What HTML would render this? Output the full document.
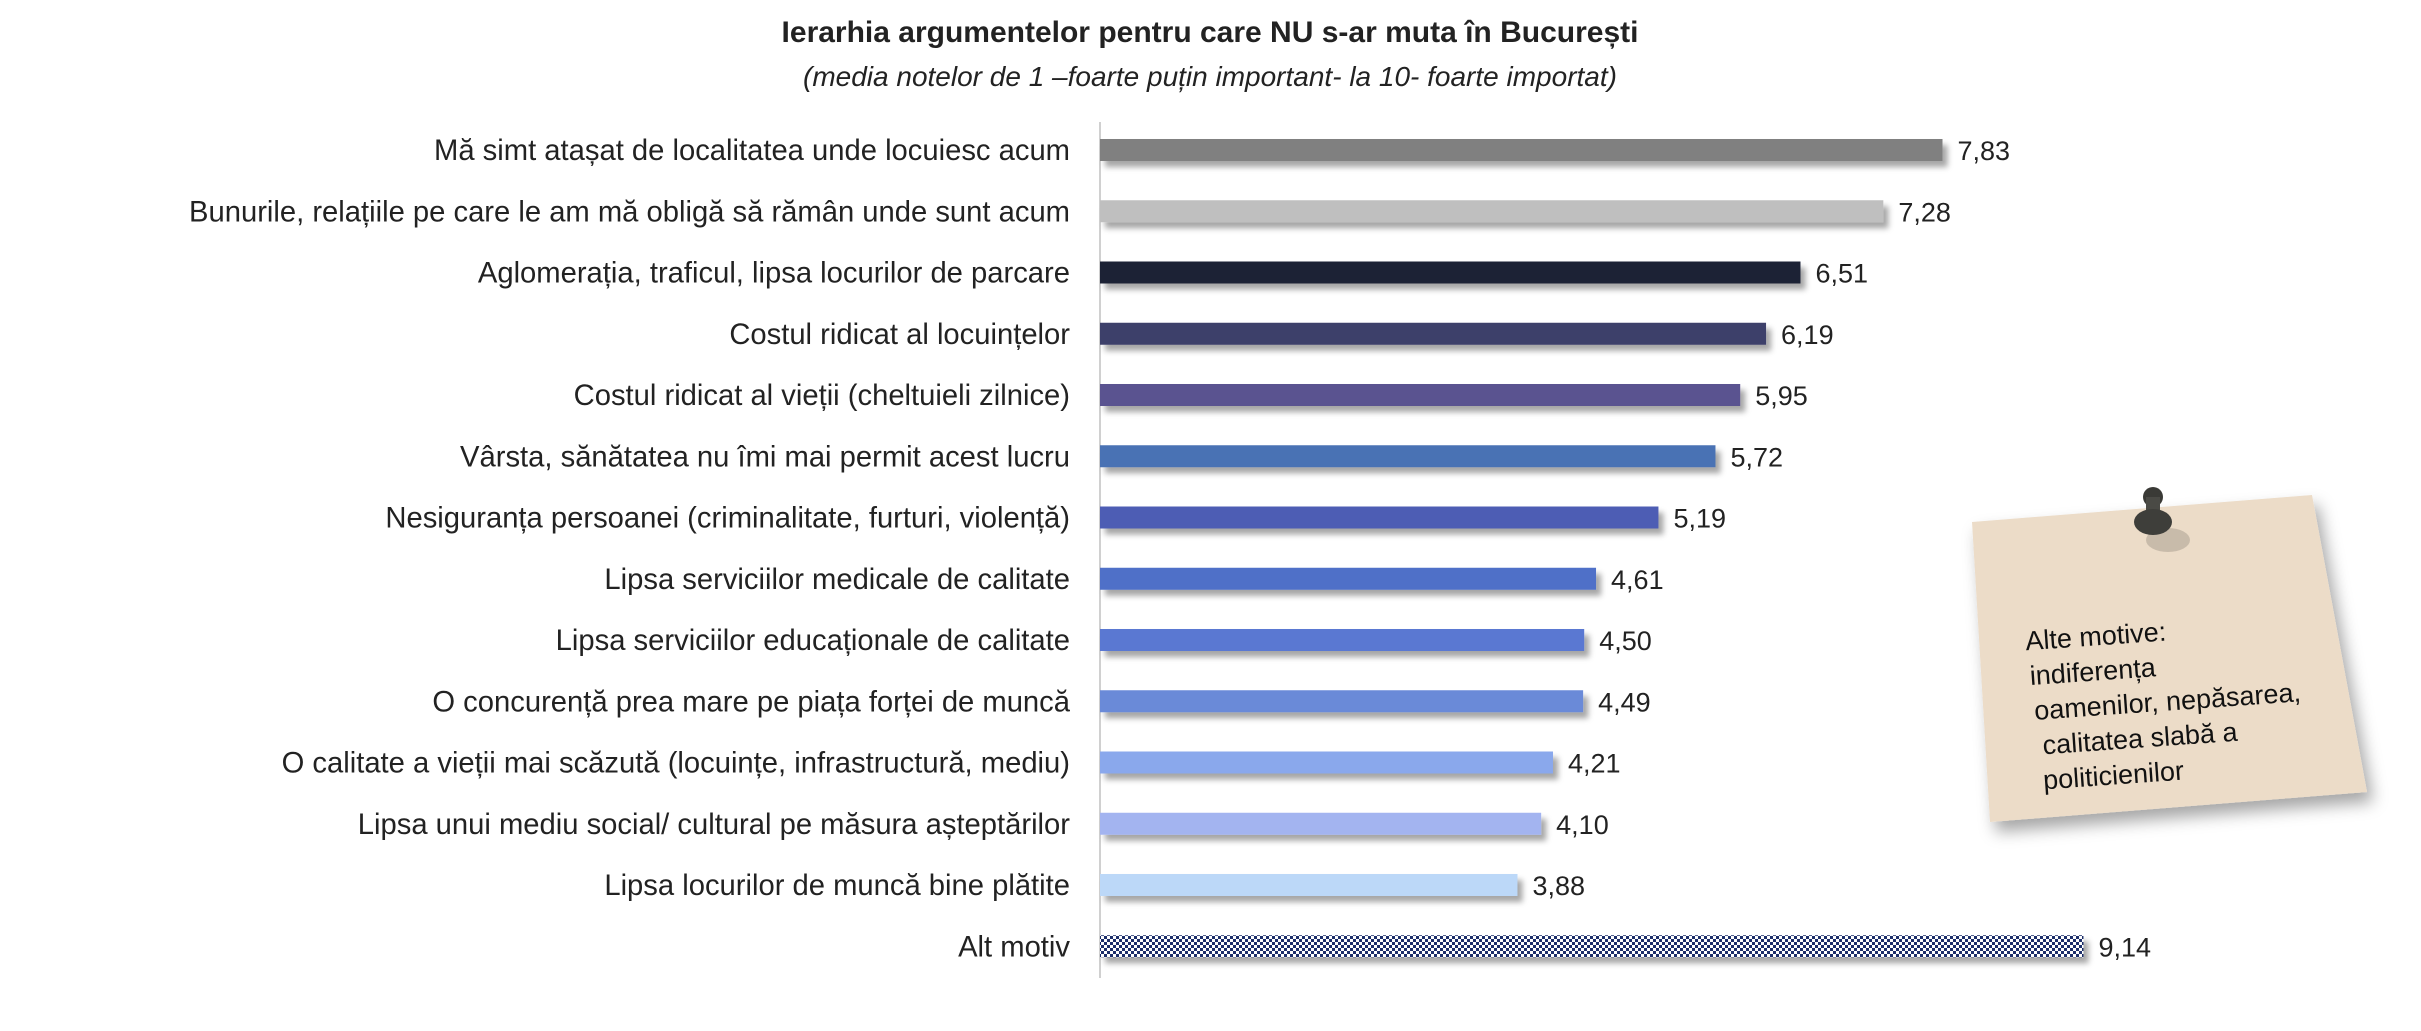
<!DOCTYPE html>
<html><head><meta charset="utf-8"><style>
body{margin:0;background:#fff;width:2421px;height:1031px;overflow:hidden;font-family:"Liberation Sans",sans-serif}
svg{display:block}
</style></head><body>
<svg id="chart" width="2421" height="1031">
<defs>
<pattern id="chk" width="6" height="6" patternUnits="userSpaceOnUse"><rect width="6" height="6" fill="#fff"/><rect width="3" height="3" fill="#1f2f6a"/><rect x="3" y="3" width="3" height="3" fill="#1f2f6a"/></pattern>
<filter id="sh" x="-5%" y="-50%" width="110%" height="250%"><feDropShadow dx="5" dy="6" stdDeviation="3" flood-color="#000" flood-opacity="0.35"/></filter>
<filter id="nsh" x="-10%" y="-10%" width="130%" height="130%"><feDropShadow dx="6" dy="10" stdDeviation="8" flood-color="#000" flood-opacity="0.35"/></filter>
</defs>
<text x="1210" y="42" text-anchor="middle" font-size="30" font-weight="bold" fill="#222">Ierarhia argumentelor pentru care NU s-ar muta în București</text>
<text x="1210" y="86" text-anchor="middle" font-size="28" font-style="italic" fill="#222">(media notelor de 1 –foarte puțin important- la 10- foarte importat)</text>
<line x1="1100" y1="122" x2="1100" y2="978" stroke="#d0d0d0" stroke-width="2"/>
<g id="bars"></g>
<g>
<polygon points="1972,522 2312,495 2367,792 1990,822" fill="#ecdcc8" filter="url(#nsh)"/>
<ellipse cx="2168" cy="540" rx="22" ry="12" fill="#000" opacity="0.15"/>
<circle cx="2153" cy="497" r="10" fill="#3a3a36"/>
<rect x="2146" y="497" width="14" height="22" fill="#4a4a45"/>
<ellipse cx="2153" cy="522" rx="19" ry="13" fill="#3e3e3a"/>
<g transform="rotate(-4 2030 650)" font-size="27" fill="#111">
<text x="2026" y="650">Alte motive:</text>
<text x="2028" y="685">indiferența</text>
<text x="2030" y="720">oamenilor, nepăsarea,</text>
<text x="2036" y="755">calitatea slabă a</text>
<text x="2034" y="790">politicienilor</text>
</g>
</g>
</svg>
<script>
const categories=["Mă simt atașat de localitatea unde locuiesc acum","Bunurile, relațiile pe care le am mă obligă să rămân unde sunt acum","Aglomerația, traficul, lipsa locurilor de parcare","Costul ridicat al locuințelor","Costul ridicat al vieții (cheltuieli zilnice)","Vârsta, sănătatea nu îmi mai permit acest lucru","Nesiguranța persoanei (criminalitate, furturi, violență)","Lipsa serviciilor medicale de calitate","Lipsa serviciilor educaționale de calitate","O concurență prea mare pe piața forței de muncă","O calitate a vieții mai scăzută (locuințe, infrastructură, mediu)","Lipsa unui mediu social/ cultural pe măsura așteptărilor","Lipsa locurilor de muncă bine plătite","Alt motiv"];
const values=[7.83,7.28,6.51,6.19,5.95,5.72,5.19,4.61,4.50,4.49,4.21,4.10,3.88,9.14];
const colors=["#808080","#bfbfbf","#1a2035","#3d3f6b","#5a5290","#4a72b4","#4d5db4","#5070c8","#5a78d2","#6a8ad8","#8aa8ec","#a3b4f0","#bcd8f8","url(#chk)"];
const x0=1100,unit=107.6,y0=139,step=61.25,bh=22;
const xs=v=>x0+v*unit, ys=i=>y0+i*step;
const g=document.getElementById('bars');const NS='http://www.w3.org/2000/svg';
categories.forEach((c,i)=>{
 const r=document.createElementNS(NS,'rect');
 r.setAttribute('x',x0);r.setAttribute('y',ys(i));r.setAttribute('width',xs(values[i])-x0);r.setAttribute('height',bh);
 r.setAttribute('fill',colors[i]);r.setAttribute('filter','url(#sh)');
 
 
 g.appendChild(r);
 const t=document.createElementNS(NS,'text');
 t.setAttribute('x',1070);t.setAttribute('y',ys(i)+bh/2+10);t.setAttribute('text-anchor','end');t.setAttribute('font-size','29.2');t.setAttribute('fill','#222');
 t.textContent=c;
 
 
 g.appendChild(t);
 const v=document.createElementNS(NS,'text');
 v.setAttribute('x',xs(values[i])+15);v.setAttribute('y',ys(i)+bh/2+10);v.setAttribute('font-size','27');v.setAttribute('fill','#222');
 v.textContent=values[i].toFixed(2).replace('.',',');
 
 
 g.appendChild(v);
});
</script>
</body></html>
